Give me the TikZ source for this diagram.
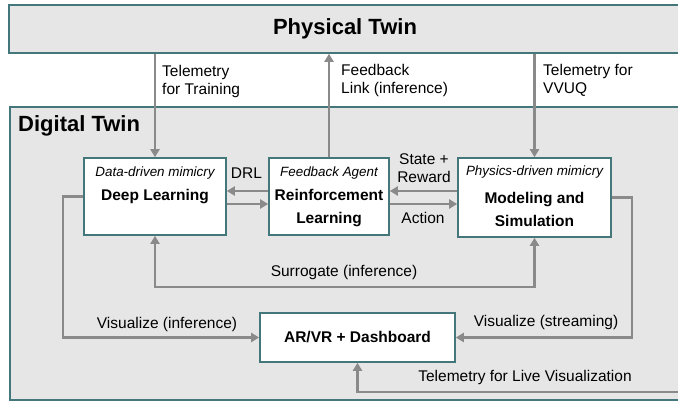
\documentclass[tikz,border=0pt]{standalone}
\usepackage{fontspec}
\setmainfont{Liberation Sans}
\usetikzlibrary{arrows.meta}
\definecolor{tealb}{HTML}{44777B}
\definecolor{boxgray}{HTML}{E6E6E6}
\definecolor{arrgray}{HTML}{8A8A8A}
\tikzset{
  frame/.style={draw=tealb, line width=1.6pt, fill=boxgray, inner sep=0},
  box/.style={draw=tealb, line width=1.6pt, fill=white, inner sep=0},
  conn/.style={draw=arrgray, line width=2.2pt, -{Triangle[length=8pt,width=9pt]}},
  conn2/.style={draw=arrgray, line width=2.2pt, {Triangle[length=8pt,width=9pt]}-{Triangle[length=8pt,width=9pt]}},
  lbl/.style={font=\fontsize{15.5}{18}\selectfont, inner sep=0, text=black},
  sub/.style={font=\fontsize{13.4}{16}\selectfont\itshape, inner sep=0, text=black},
  ttl/.style={font=\fontsize{15.5}{23}\selectfont\bfseries, inner sep=0, text=black, align=center},
  big/.style={font=\fontsize{22}{26}\selectfont\bfseries, inner sep=0, text=black}
}
\begin{document}
\begin{tikzpicture}[x=1pt,y=-1pt]
\useasboundingbox (0,0) rectangle (678,402);
\clip (0,0) rectangle (678,402);
\fill[white] (0,0) rectangle (678,402);
% frames
\node[frame, minimum width=711pt, minimum height=48pt] (pt) at (364.5,29) {};
\node[big] (pttext) at (345,29) {Physical Twin};
\node[frame, minimum width=710pt, minimum height=293pt] (dt) at (365,253.5) {};
\node[big, anchor=west] (dttext) at (18,126) {Digital Twin};
% boxes
\node[box, minimum width=142pt, minimum height=77pt] (dl) at (155,196.5) {};
\node[box, minimum width=120pt, minimum height=77pt] (rl) at (329,196.5) {};
\node[box, minimum width=153pt, minimum height=79pt] (ms) at (534.5,197.5) {};
\node[box, minimum width=195pt, minimum height=49pt, font=\fontsize{15.5}{18}\selectfont\bfseries] (ar) at (357.5,337.5) {AR/VR + Dashboard};
% box texts
\node[sub] (dlsub) at (155,173) {Data-driven mimicry};
\node[ttl] (dltxt) at (155,197) {Deep Learning};
\node[sub] (rlsub) at (329,173) {Feedback Agent};
\node[ttl] (rltxt) at (329,208.5) {Reinforcement\\Learning};
\node[sub] (mssub) at (534.5,172) {Physics-driven mimicry};
\node[ttl] (mstxt) at (534.5,209) {Modeling and\\Simulation};
% connectors from physical twin
\draw[conn] (dl.north |- pt.south) -- (dl.north);
\draw[conn] (rl.north) -- (rl.north |- pt.south);
\draw[conn] (ms.north |- pt.south) -- (ms.north);
% DRL
\draw[conn] (rl.west |- 0,191) -- (dl.east |- 0,191);
\draw[conn] (dl.east |- 0,204) -- (rl.west |- 0,204);
% state/action
\draw[conn] (ms.west |- 0,191) -- (rl.east |- 0,191);
\draw[conn] (rl.east |- 0,204) -- (ms.west |- 0,204);
% surrogate
\draw[conn2] (ms.south) -- (ms.south |- 0,287) -- (dl.south |- 0,287) -- (dl.south);
% visualize
\draw[conn] (dl.west) -- ++(-20,0) |- (ar.west);
\draw[conn] (ms.east) -- ++(20,0) |- (ar.east);
\coordinate (tlv) at (700,392);
\draw[conn] (tlv) -| (ar.south);
% labels
\node[lbl, anchor=west, align=left] (l1) at (162,81) {Telemetry\\for Training};
\node[lbl, anchor=west, align=left] (l2) at (341,80) {Feedback\\Link (inference)};
\node[lbl, anchor=west, align=left] (l3) at (543,80) {Telemetry for\\VVUQ};
\node[lbl] (l4) at (246.5,173) {DRL};
\node[lbl, align=center] (l5) at (424,168.5) {State +\\Reward};
\node[lbl] (l6) at (423,218) {Action};
\node[lbl] (l7) at (344,272) {Surrogate (inference)};
\node[lbl] (l8) at (167,324) {Visualize (inference)};
\node[lbl] (l9) at (546,322) {Visualize (streaming)};
\node[lbl] (l10) at (525,377) {Telemetry for Live Visualization};
\end{tikzpicture}
\end{document}
